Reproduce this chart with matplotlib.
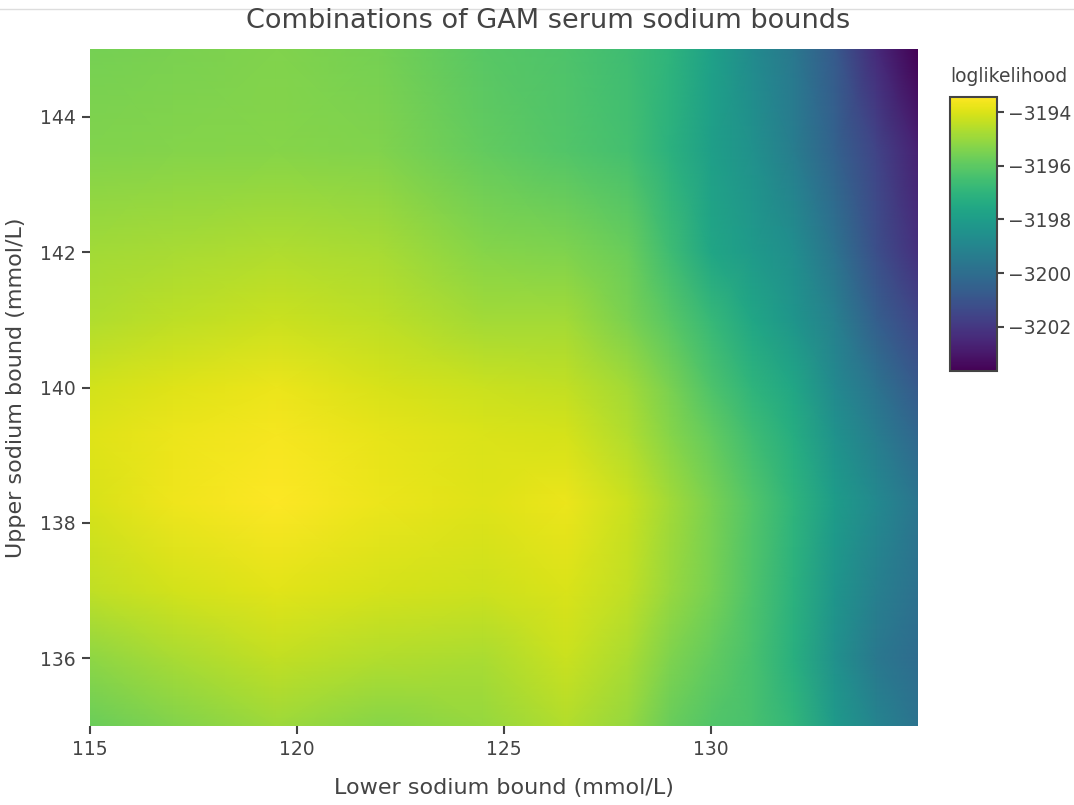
import matplotlib.pyplot as plt
from matplotlib.lines import Line2D
import numpy as np

# lower / upper sodium bounds of the GAM fits (mmol/L)
lower_bounds = [115, 117, 119.5, 122, 124.5, 126.5, 128, 129, 130, 131, 132, 133, 134, 135]
upper_bounds = [135, 136, 137, 138.3, 139.3, 140, 141, 142, 143.5, 145]

# loglikelihood, one row per upper bound (ascending)
ll_135 = [-3195.79, -3195.38, -3194.92, -3195.28, -3195.07, -3194.61, -3195.07, -3195.79, -3196.19, -3196.40, -3196.91, -3198.13, -3199.05, -3199.76]
ll_136 = [-3195.18, -3194.77, -3194.36, -3194.62, -3194.72, -3194.26, -3194.72, -3195.43, -3195.89, -3196.40, -3197.21, -3198.54, -3199.56, -3200.07]
ll_137 = [-3194.41, -3194.15, -3193.90, -3194.10, -3194.20, -3194.00, -3194.41, -3195.02, -3195.53, -3196.30, -3197.11, -3198.34, -3199.25, -3199.87]
ll_1383 = [-3194.05, -3193.70, -3193.44, -3193.75, -3193.95, -3193.75, -3194.26, -3194.87, -3195.48, -3196.19, -3197.01, -3198.03, -3198.85, -3199.66]
ll_1393 = [-3193.95, -3193.75, -3193.57, -3193.80, -3194.03, -3194.08, -3194.66, -3195.28, -3195.89, -3196.60, -3197.32, -3198.44, -3199.36, -3200.27]
ll_140 = [-3194.15, -3193.95, -3193.75, -3194.05, -3194.26, -3194.36, -3194.87, -3195.48, -3196.30, -3197.01, -3197.62, -3198.85, -3199.76, -3200.78]
ll_141 = [-3194.66, -3194.46, -3194.26, -3194.46, -3194.87, -3194.87, -3195.48, -3196.09, -3196.81, -3197.62, -3198.34, -3199.25, -3200.58, -3201.50]
ll_142 = [-3194.87, -3194.77, -3194.66, -3194.77, -3195.28, -3195.43, -3195.79, -3196.60, -3197.62, -3198.13, -3198.64, -3199.76, -3201.19, -3202.21]
ll_1435 = [-3195.38, -3195.33, -3195.28, -3195.38, -3195.89, -3196.19, -3196.50, -3197.11, -3197.93, -3198.54, -3199.36, -3200.48, -3201.60, -3202.72]
ll_145 = [-3195.58, -3195.48, -3195.38, -3195.58, -3196.09, -3196.30, -3196.60, -3197.01, -3197.83, -3198.74, -3199.56, -3200.78, -3202.42, -3203.64]

cbar_ticks = [-3202, -3200, -3198, -3196, -3194]

z = np.array([ll_135, ll_136, ll_137, ll_1383, ll_1393, ll_140, ll_141, ll_142, ll_1435, ll_145])
X, Y = np.meshgrid(lower_bounds, upper_bounds)

txt = '#444444'
plt.rcParams['font.family'] = ['DejaVu Sans']

fig = plt.figure(figsize=(10.74, 8.05), dpi=100)
W, H = 1074, 805
ax = fig.add_axes([90 / W, 1 - 726 / H, (918 - 90) / W, (726 - 49) / H])

mesh = ax.pcolormesh(X, Y, z, shading='gouraud', cmap='viridis',
                     vmin=z.min(), vmax=z.max(), rasterized=True)
ax.set_xlim(115, 135)
ax.set_ylim(135, 145)
ax.set_xticks([115, 120, 125, 130])
ax.set_yticks([136, 138, 140, 142, 144])
for s in ax.spines.values():
    s.set_visible(False)
ax.tick_params(colors=txt, labelsize=13.5, length=6, width=1.5, direction='out', pad=4)

ax.set_xlabel('Lower sodium bound (mmol/L)', fontsize=16, color=txt, labelpad=14)
ax.set_ylabel('Upper sodium bound (mmol/L)', fontsize=16, color=txt, labelpad=10)
fig.text(548 / W, 1 - 21 / H, 'Combinations of GAM serum sodium bounds',
         ha='center', va='center', fontsize=19.5, color=txt)

# colorbar
cax = fig.add_axes([950 / W, 1 - 371 / H, (997 - 950) / W, (371 - 97) / H])
cb = fig.colorbar(mesh, cax=cax, ticks=cbar_ticks)
cb.outline.set_edgecolor(txt)
cb.outline.set_linewidth(1.5)
cax.tick_params(colors=txt, labelsize=13.5, length=5, width=1.5, pad=3)
fig.text(1009 / W, 1 - 76 / H, 'loglikelihood', ha='center', va='center',
         fontsize=13.5, color=txt)

# thin rule along the top edge
fig.add_artist(Line2D([0, 1], [1 - 9 / H, 1 - 9 / H], color='#dddddd', lw=1))

fig.savefig('out.png', dpi=100)
